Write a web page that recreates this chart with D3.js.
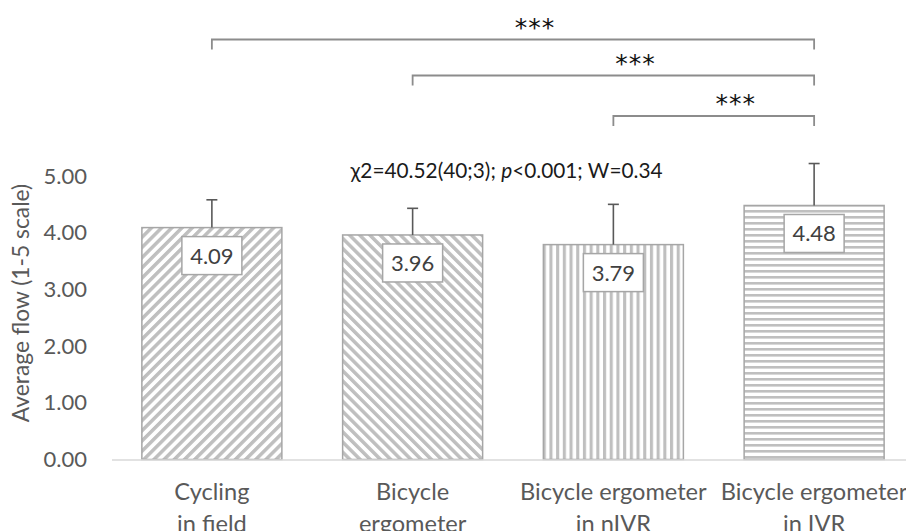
<!DOCTYPE html>
<html>
<head>
<meta charset="utf-8">
<script src="https://cdn.jsdelivr.net/npm/d3@7"></script>
<style>
  html, body { margin: 0; padding: 0; background: #fff; }
  svg { display: block; font-family: Lato, "Open Sans", sans-serif; }
</style>
</head>
<body>
<svg id="chart" width="906" height="531"></svg>
<script>
// Condition names (line breaks mark the two-line axis labels)
const categories = [
  "Cycling\nin field",
  "Bicycle\nergometer",
  "Bicycle ergometer\nin nIVR",
  "Bicycle ergometer\nin IVR"
];
// Mean flow score per condition and its standard deviation
const means = [4.09, 3.96, 3.79, 4.48];
const sds = [0.49, 0.47, 0.71, 0.74];
// Fill pattern used for each condition
const patterns = ["diagUp", "diagDown", "vertical", "horizontal"];
// Y-axis ticks
const yTicks = [0, 1, 2, 3, 4, 5];
// Pairwise post-hoc comparisons (index of first and second condition, significance)
const compFrom = [0, 1, 2];
const compTo = [3, 3, 3];
const compLabel = ["***", "***", "***"];
// Omnibus test result
const statParts = [
  { text: "\u03c72=40.52(40;3); ", italic: false },
  { text: "p", italic: true },
  { text: "<0.001; W=0.34", italic: false }
];
const yTitle = "Average flow (1-5 scale)";

const svg = d3.select("#chart");
const textGray = "#595959";
const stripe = "#bfbfbf";
const outline = "#a6a6a6";

const x = d3.scaleBand()
  .domain(categories)
  .range([111.5, 914.5])
  .paddingInner(0.3026)
  .paddingOuter(0.1513);

const y = d3.scaleLinear()
  .domain([0, 5])
  .range([459.5, 176]);

// ---- stripe patterns ----
const defs = svg.append("defs");
function stripes(id, period, thick, angle) {
  const p = defs.append("pattern")
    .attr("id", id)
    .attr("patternUnits", "userSpaceOnUse")
    .attr("width", period)
    .attr("height", period)
    .attr("patternTransform", `rotate(${angle})`);
  p.append("rect").attr("width", period).attr("height", period).attr("fill", "#fff");
  p.append("rect").attr("x", 0).attr("y", 0)
    .attr("width", thick).attr("height", period).attr("fill", stripe);
}
stripes("diagUp", 7.2, 3.5, 45);
stripes("diagDown", 7.2, 3.5, -45);
stripes("vertical", 6.7, 3.1, 0);
stripes("horizontal", 6.0, 2.6, 90);

// ---- y axis (labels only) ----
const yAxis = svg.append("g")
  .attr("transform", "translate(112,0)")
  .call(d3.axisLeft(y).tickValues(yTicks).tickFormat(d3.format(".2f"))
    .tickSize(0).tickPadding(25));
yAxis.select(".domain").remove();
yAxis.selectAll("text")
  .attr("fill", textGray)
  .style("font-size", "22px")
  .style("font-family", "Lato, sans-serif");

svg.append("text")
  .attr("transform", "translate(29,303) rotate(-90)")
  .attr("text-anchor", "middle")
  .attr("fill", textGray)
  .style("font-size", "22.8px")
  .text(yTitle);

// ---- bars ----
const data = categories.map((c, i) => ({ c, m: means[i], sd: sds[i], p: patterns[i] }));

svg.append("g").selectAll("rect")
  .data(data)
  .join("rect")
  .attr("x", d => x(d.c))
  .attr("y", d => y(d.m))
  .attr("width", x.bandwidth())
  .attr("height", d => y(0) - y(d.m))
  .attr("fill", d => `url(#${d.p})`)
  .attr("stroke", outline)
  .attr("stroke-width", 1.5);

// ---- x axis baseline + two-line labels ----
const xAxis = svg.append("g")
  .attr("transform", `translate(0,${y(0)})`)
  .call(d3.axisBottom(x).tickSize(0).tickSizeOuter(0).tickFormat(""));
xAxis.select(".domain").attr("stroke", "#d9d9d9").attr("stroke-width", 1.5);

svg.append("g").selectAll("text")
  .data(categories)
  .join("text")
  .attr("text-anchor", "middle")
  .attr("fill", textGray)
  .style("font-size", "23.6px")
  .each(function (c) {
    const t = d3.select(this);
    c.split("\n").forEach((line, k) => {
      t.append("tspan")
        .attr("x", x(c) + x.bandwidth() / 2)
        .attr("y", 500 + k * 32)
        .text(line);
    });
  });

// ---- error bars (upper half) ----
const cap = 5.5;
const eb = svg.append("g").attr("stroke", textGray).attr("stroke-width", 1.6);
data.forEach(d => {
  const cx = x(d.c) + x.bandwidth() / 2;
  eb.append("line")
    .attr("x1", cx).attr("x2", cx)
    .attr("y1", y(d.m)).attr("y2", y(d.m + d.sd));
  eb.append("line")
    .attr("x1", cx - cap).attr("x2", cx + cap)
    .attr("y1", y(d.m + d.sd)).attr("y2", y(d.m + d.sd));
});

// ---- value labels in boxes ----
const lab = svg.append("g").selectAll("g")
  .data(data)
  .join("g")
  .attr("transform", d => `translate(${x(d.c) + x.bandwidth() / 2},${y(d.m) + 28})`);
lab.append("rect")
  .attr("x", -30).attr("y", -19)
  .attr("width", 60).attr("height", 38)
  .attr("fill", "#fff")
  .attr("stroke", outline)
  .attr("stroke-width", 1.5);
lab.append("text")
  .attr("text-anchor", "middle")
  .attr("dy", "0.36em")
  .attr("fill", "#404040")
  .style("font-size", "22px")
  .text(d => d.m.toFixed(2));

// ---- statistics annotation ----
const stat = svg.append("text")
  .attr("x", 506.5)
  .attr("y", 178)
  .attr("text-anchor", "middle")
  .attr("fill", "#1a1a1a")
  .style("font-size", "20.8px");
statParts.forEach(p => {
  stat.append("tspan")
    .style("font-style", p.italic ? "italic" : "normal")
    .text(p.text);
});

// ---- significance brackets ----
const bracketY = [39.5, 75.5, 116];
const drop = 10;
const br = svg.append("g");
compFrom.forEach((a, i) => {
  const x1 = x(categories[a]) + x.bandwidth() / 2;
  const x2 = x(categories[compTo[i]]) + x.bandwidth() / 2;
  const by = bracketY[i];
  br.append("path")
    .attr("d", `M${x1},${by + drop}V${by}H${x2}V${by + drop}`)
    .attr("fill", "none")
    .attr("stroke", "#8c8c8c")
    .attr("stroke-width", 1.8);
  br.append("text")
    .attr("x", (x1 + x2) / 2 + 22)
    .attr("y", by - 4)
    .attr("text-anchor", "middle")
    .attr("fill", "#111")
    .style("font-family", "'DejaVu Sans', sans-serif")
    .style("font-size", "25px")
    .style("letter-spacing", "1px")
    .text(compLabel[i]);
});
</script>
</body>
</html>
